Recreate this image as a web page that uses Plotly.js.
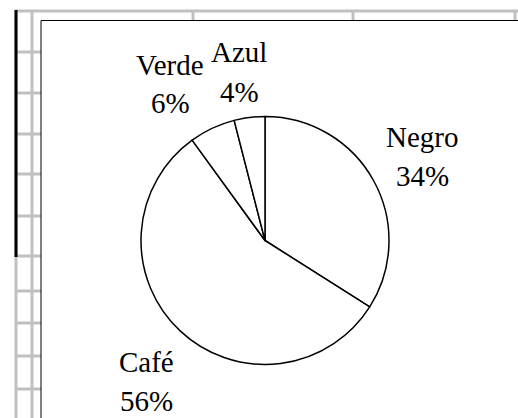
<!DOCTYPE html>
<html>
<head>
<meta charset="utf-8">
<script src="https://cdn.plot.ly/plotly-3.0.1.min.js"></script>
<style>
  html, body { margin: 0; padding: 0; background: #fff; }
  #chart { width: 518px; height: 418px; }
</style>
</head>
<body>
<div id="chart"></div>
<script>
// ── Data ──────────────────────────────────────────────────────────────────────
const LABELS = ['Negro', 'Café', 'Verde', 'Azul'];
const VALUES = [34, 56, 6, 4];

// ── Page geometry (pixels → paper fractions) ──────────────────────────────────
const W = 518, H = 418;
const px = x => x / W;
const py = y => 1 - y / H;

// Label anchor points (pixel centres) for name and percentage lines
const LABEL_POS = {
  'Negro': { x: 422, y1: 137, y2: 176 },
  'Café':  { x: 146, y1: 362, y2: 401 },
  'Verde': { x: 170, y1: 65,  y2: 103 },
  'Azul':  { x: 239, y1: 52,  y2: 92 },
};

// ── Spreadsheet grid behind the chart object ─────────────────────────────────
const GRID = '#c0c0c0';
function hLine(y, x0, x1, color, width) {
  return { type: 'line', xref: 'paper', yref: 'paper', layer: 'below',
           x0: px(x0), x1: px(x1), y0: py(y), y1: py(y),
           line: { color: color, width: width } };
}
function vLine(x, y0, y1, color, width) {
  return { type: 'line', xref: 'paper', yref: 'paper', layer: 'below',
           x0: px(x), x1: px(x), y0: py(y0), y1: py(y1),
           line: { color: color, width: width } };
}

const shapes = [
  hLine(11, 15, 520, GRID, 3),
  vLine(16, 10, 420, GRID, 3),
  vLine(32, 10, 420, GRID, 3),
  vLine(193, 10, 21, GRID, 3),
  vLine(353, 10, 21, GRID, 3),
  vLine(515, 10, 21, GRID, 3),
  ...[52, 93, 134, 174, 216, 256, 291, 323, 356, 389].map(y => hLine(y, 16, 41, GRID, 3)),
  vLine(16, 10, 257, '#000', 3),
  // chart object border (runs off the right and bottom)
  { type: 'rect', xref: 'paper', yref: 'paper', layer: 'below',
    x0: px(41), x1: px(530), y0: py(20.5), y1: py(430),
    fillcolor: '#fff', line: { color: '#000', width: 1 } },
];

// ── Labels (two lines each, Excel-style wide spacing) ─────────────────────────
const FONT = { family: "'Liberation Serif', 'Times New Roman', Times, serif", size: 29, color: '#000' };
const annotations = [];
LABELS.forEach((lab, i) => {
  const p = LABEL_POS[lab];
  annotations.push({ xref: 'paper', yref: 'paper', x: px(p.x), y: py(p.y1),
    xanchor: 'center', yanchor: 'middle', showarrow: false, text: lab, font: FONT });
  annotations.push({ xref: 'paper', yref: 'paper', x: px(p.x), y: py(p.y2),
    xanchor: 'center', yanchor: 'middle', showarrow: false, text: VALUES[i] + '%', font: FONT });
});

// ── Pie ───────────────────────────────────────────────────────────────────────
const CX = 265, CY = 240.5, R = 124;
const trace = {
  type: 'pie',
  labels: LABELS,
  values: VALUES,
  sort: false,
  direction: 'clockwise',
  rotation: 0,
  textinfo: 'none',
  hoverinfo: 'none',
  showlegend: false,
  marker: { colors: LABELS.map(() => '#fff'), line: { color: '#000', width: 1.5 } },
  domain: { x: [px(CX - R), px(CX + R)], y: [py(CY + R), py(CY - R)] },
};

Plotly.newPlot('chart', [trace], {
  width: W, height: H,
  margin: { l: 0, r: 0, t: 0, b: 0 },
  paper_bgcolor: '#fff',
  shapes: shapes,
  annotations: annotations,
}, { displayModeBar: false, staticPlot: true });
</script>
</body>
</html>
